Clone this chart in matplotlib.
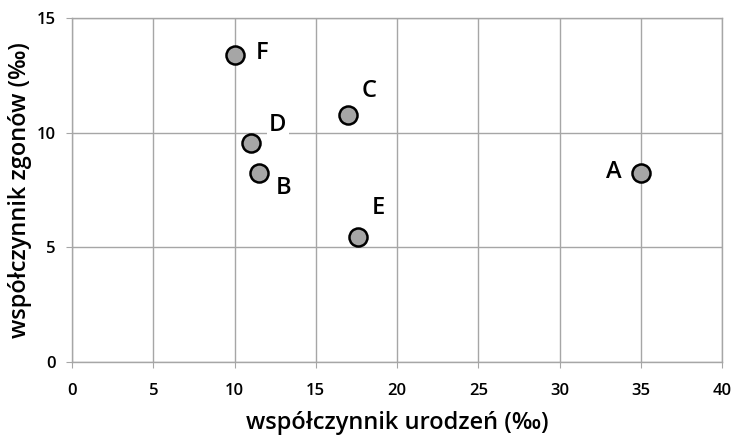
import matplotlib
matplotlib.use('Agg')
import matplotlib.pyplot as plt

# dane: współczynnik urodzeń i zgonów (‰)
labels = ['A', 'B', 'C', 'D', 'E', 'F']
birth = [35.0, 11.5, 17.0, 11.0, 17.6, 10.0]
death = [8.25, 8.25, 10.75, 9.55, 5.45, 13.4]
# przesunięcie podpisów w pikselach
offsets = {'A': (-27, 1), 'B': (25, -15), 'C': (21, 24), 'D': (27, 18), 'E': (20, 29), 'F': (28, 2)}

plt.rcParams['font.family'] = ['Open Sans', 'DejaVu Sans']

fig = plt.figure(figsize=(7.31, 4.36), dpi=100)
ax = fig.add_axes([0.0985, 0.1697, 0.8892, 0.789])

ax.set_xlim(0, 40)
ax.set_ylim(0, 15)
ax.set_xticks(range(0, 41, 5))
ax.set_yticks([0, 5, 10, 15])
ax.grid(True, color='#a6a6a6', linewidth=1)
ax.set_axisbelow(True)
for s in ax.spines.values():
    s.set_color('#a6a6a6')
    s.set_linewidth(1)
ax.tick_params(colors='#a6a6a6', labelcolor='black', labelsize=12, length=4)
ax.tick_params(axis='x', pad=11)
ax.tick_params(axis='y', pad=8)
for t in ax.get_xticklabels() + ax.get_yticklabels():
    t.set_fontweight('semibold')

ax.plot(birth, death, 'o', markersize=13, markerfacecolor='#a6a6a6',
        markeredgecolor='#000000', markeredgewidth=1.8, zorder=3)

for lab, x, y in zip(labels, birth, death):
    dx, dy = offsets[lab]
    ax.annotate(lab, (x, y), xytext=(dx, dy), textcoords='offset pixels',
                ha='center', va='center', fontsize=17, fontweight='semibold',
                bbox=dict(boxstyle='square,pad=0.1', fc='white', ec='none'), zorder=4)

ax.set_xlabel('współczynnik urodzeń (‰)', fontsize=17, fontweight='semibold', labelpad=9)
ax.set_ylabel('współczynnik zgonów (‰)', fontsize=17, fontweight='semibold', labelpad=3)

fig.savefig('out.png', dpi=100)
